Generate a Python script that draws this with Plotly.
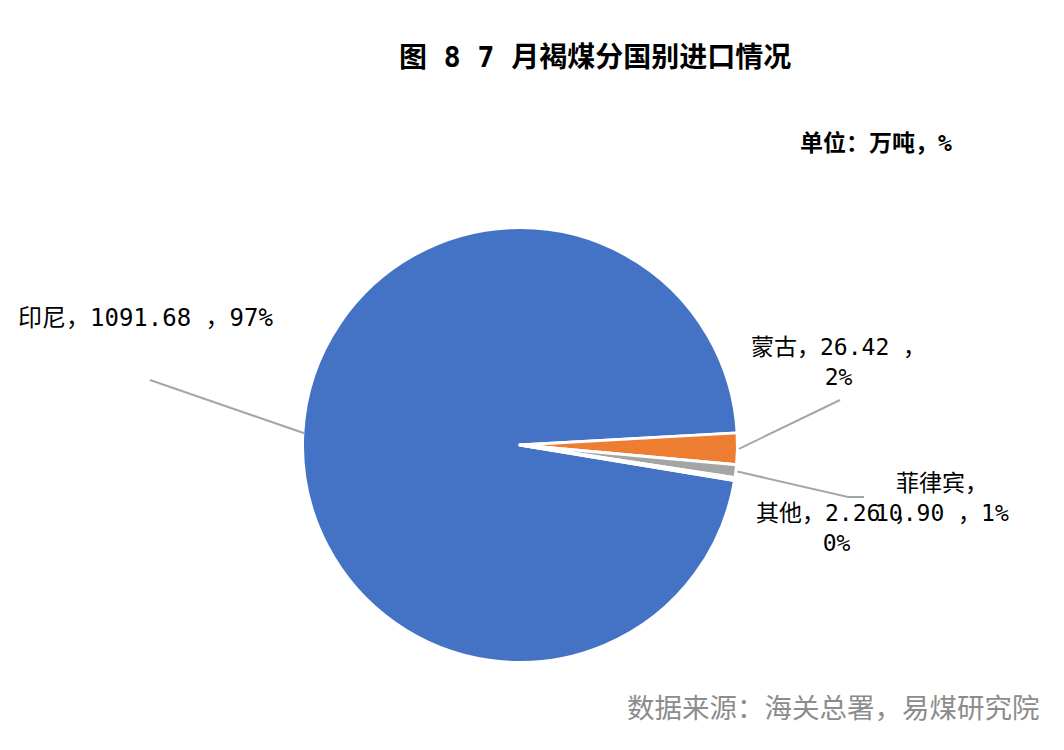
import math
import plotly.graph_objects as go

# ---- data ----
countries = ["印尼", "蒙古", "菲律宾", "其他"]
volumes = [1091.68, 26.42, 10.90, 2.26]
pct_labels = ["97%", "2%", "1%", "0%"]
value_labels = ["1091.68", "26.42", "10.90", "2.26"]
colors = ["#4472C4", "#ED7D31", "#A5A5A5", "#FFC000"]

W, H = 1064, 750
OFF = 8  # default body margin of the page
FONT = "DejaVu Sans Mono, Noto Sans CJK SC"
CJK = "Noto Sans CJK SC"
ROT = 99.4
CX, CY, R = 520, 445, 217.5   # page pixels


def P(px, py):
    return (px - OFF) / W, 1 - (py - OFF) / H


dx0, dy1 = P(CX - R, CY - R)
dx1, dy0 = P(CX + R, CY + R)

fig = go.Figure(go.Pie(
    labels=countries, values=volumes, sort=False, direction="clockwise",
    rotation=ROT, textinfo="none", hoverinfo="label+value+percent",
    marker=dict(colors=colors, line=dict(color="white", width=3)),
    domain=dict(x=[dx0, dx1], y=[dy0, dy1]), showlegend=False,
))

# mid-angles of slices (clock degrees, from 12 o'clock clockwise)
total = sum(volumes)
mids = []
acc = ROT
for v in volumes:
    span = v / total * 360
    mids.append(acc + span / 2)
    acc += span


def edge(i, extra=0.0):
    a = math.radians(mids[i])
    rr = R - 1.5 + extra
    return P(CX + rr * math.sin(a), CY - rr * math.cos(a))


line_style = dict(color="#A6A6A6", width=2)
shapes = []
# 印尼
x0, y0 = edge(0, 0)
x1, y1 = P(150, 380)
shapes.append(dict(type="line", xref="paper", yref="paper", x0=x0, y0=y0, x1=x1, y1=y1, line=line_style))
# 蒙古
x0, y0 = edge(1, 3)
x1, y1 = P(840, 400)
shapes.append(dict(type="line", xref="paper", yref="paper", x0=x0, y0=y0, x1=x1, y1=y1, line=line_style))
# 菲律宾
x0, y0 = edge(2, 3)
x1, y1 = P(848, 497)
x2, y2 = P(864, 497)
shapes.append(dict(type="path", xref="paper", yref="paper",
                   path=f"M {x0} {y0} L {x1} {y1} L {x2} {y2}", line=line_style))

ann = []
lab_font = dict(family=FONT, size=23, color="#000000")


def add(text, px, py, xanchor="center", font=lab_font, align="center"):
    x, y = P(px, py)
    ann.append(dict(text=text, x=x, y=y, xref="paper", yref="paper", xanchor=xanchor,
                    yanchor="middle", showarrow=False, font=font, align=align))


add(f"{countries[0]}，{value_labels[0]} ，{pct_labels[0]}", 16, 318, "left",
    font=dict(family=FONT, size=24, color="#000000"))
add(f"{countries[1]}，{value_labels[1]} ，<br>{pct_labels[1]}", 838, 362)
add(f"{countries[3]}，{value_labels[3]} ，<br>{pct_labels[3]}", 836, 528)
add(f"{countries[2]}，<br>{value_labels[2]} ，{pct_labels[2]}", 942, 498)

add("<b>图 8 7 月褐煤分国别进口情况</b>", 595, 58,
    font=dict(family=FONT, size=28, color="#000000"))
add("<b>单位：万吨，%</b>", 876, 143,
    font=dict(family=FONT, size=23, color="#000000"))
add("数据来源：海关总署，易煤研究院", 1042, 706, xanchor="right",
    font=dict(family=CJK, size=27.5, color="#8C8C8C"))

fig.update_layout(width=W, height=H, margin=dict(l=0, r=0, t=0, b=0),
                  paper_bgcolor="white", plot_bgcolor="white",
                  shapes=shapes, annotations=ann)
fig.write_html("out.html")
